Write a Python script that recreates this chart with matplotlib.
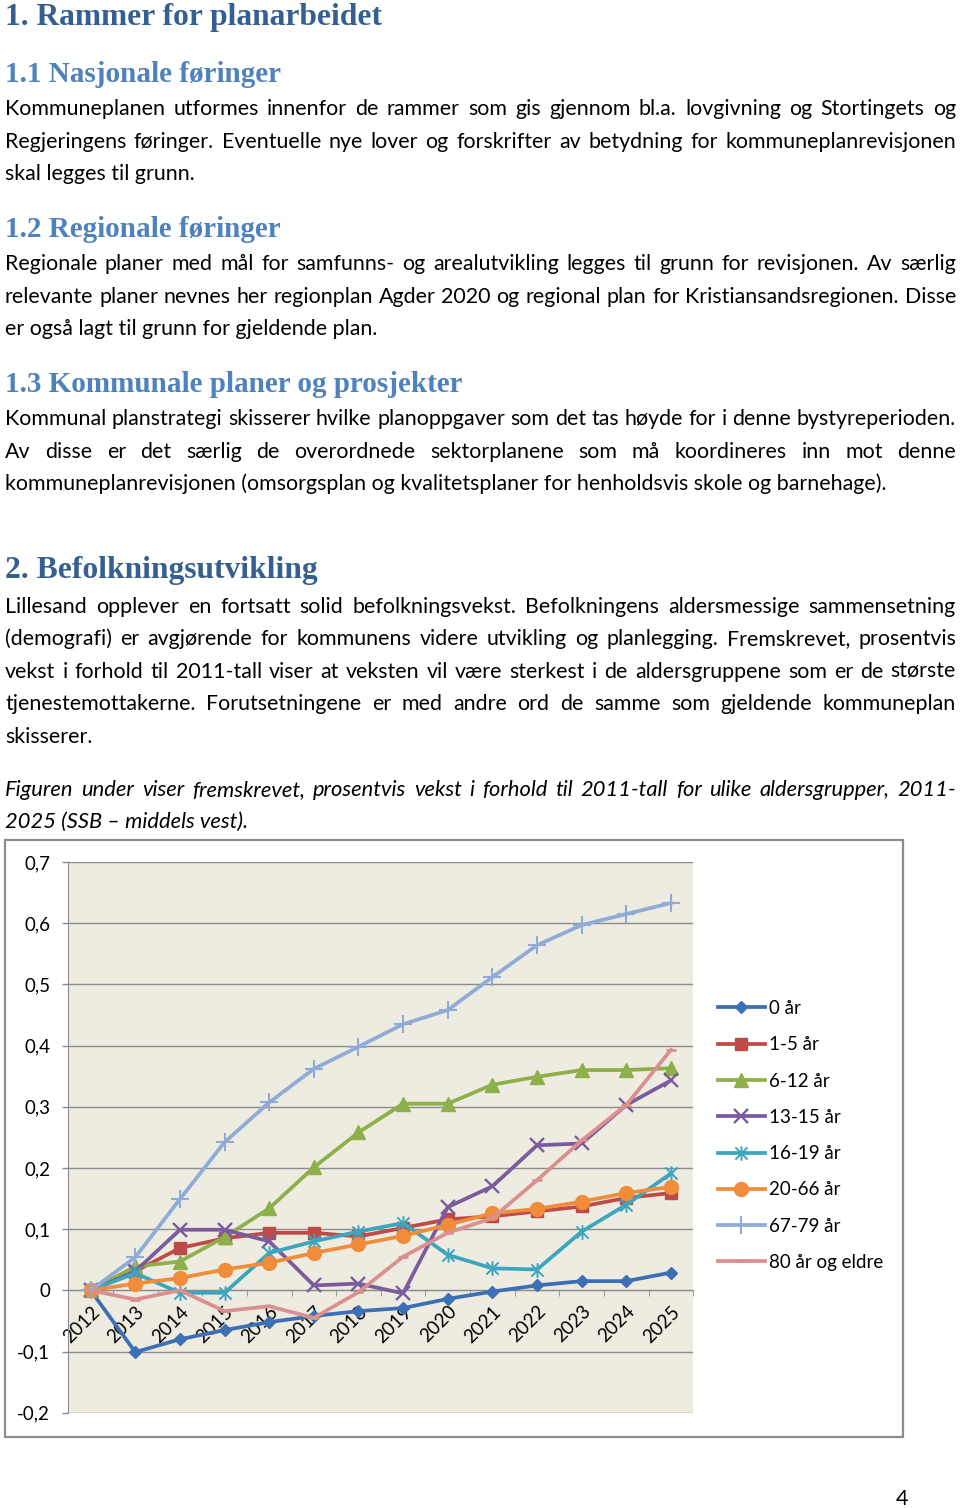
import matplotlib
matplotlib.use('Agg')
import matplotlib.pyplot as plt
from matplotlib.path import Path
from matplotlib.patches import Rectangle
import numpy as np

# ---------------- data ----------------
years = ['2012', '2013', '2014', '2015', '2016', '2017', '2018', '2019',
         '2020', '2021', '2022', '2023', '2024', '2025']
series_names = ['0 år', '1-5 år', '6-12 år', '13-15 år', '16-19 år',
                '20-66 år', '67-79 år', '80 år og eldre']
v_0 = [0, -0.101, -0.080, -0.065, -0.052, -0.042, -0.034, -0.029, -0.014, -0.002, 0.008, 0.015, 0.015, 0.029]
v_1_5 = [0, 0.031, 0.069, 0.085, 0.094, 0.094, 0.088, 0.102, 0.116, 0.121, 0.129, 0.137, 0.151, 0.159]
v_6_12 = [0, 0.039, 0.047, 0.087, 0.134, 0.201, 0.258, 0.305, 0.305, 0.336, 0.349, 0.360, 0.360, 0.363]
v_13_15 = [0, 0.031, 0.099, 0.099, 0.080, 0.008, 0.011, -0.005, 0.136, 0.170, 0.237, 0.240, 0.303, 0.343]
v_16_19 = [0, 0.028, -0.004, -0.004, 0.061, 0.080, 0.096, 0.110, 0.058, 0.036, 0.034, 0.096, 0.140, 0.191]
v_20_66 = [0, 0.011, 0.020, 0.034, 0.045, 0.061, 0.075, 0.089, 0.107, 0.126, 0.133, 0.145, 0.159, 0.169]
v_67_79 = [0, 0.054, 0.149, 0.242, 0.307, 0.362, 0.398, 0.435, 0.458, 0.512, 0.564, 0.597, 0.615, 0.633]
v_80 = [0, -0.015, 0.000, -0.034, -0.026, -0.045, -0.003, 0.055, 0.094, 0.118, 0.180, 0.245, 0.303, 0.393]
yticks = [-0.2, -0.1, 0.0, 0.1, 0.2, 0.3, 0.4, 0.5, 0.6, 0.7]
ytick_labels = ['-0,2', '-0,1', '0', '0,1', '0,2', '0,3', '0,4', '0,5', '0,6', '0,7']

# ---------------- page text ----------------
h1_a = '1. Rammer for planarbeidet'
h2_a = '1.1 Nasjonale føringer'
p1 = ['Kommuneplanen utformes innenfor de rammer som gis gjennom bl.a. lovgivning og Stortingets og',
      'Regjeringens føringer. Eventuelle nye lover og forskrifter av betydning for kommuneplanrevisjonen',
      'skal legges til grunn.']
h2_b = '1.2 Regionale føringer'
p2 = ['Regionale planer med mål for samfunns- og arealutvikling legges til grunn for revisjonen. Av særlig',
      'relevante planer nevnes her regionplan Agder 2020 og regional plan for Kristiansandsregionen. Disse',
      'er også lagt til grunn for gjeldende plan.']
h2_c = '1.3 Kommunale planer og prosjekter'
p3 = ['Kommunal planstrategi skisserer hvilke planoppgaver som det tas høyde for i denne bystyreperioden.',
      'Av disse er det særlig de overordnede sektorplanene som må koordineres inn mot denne',
      'kommuneplanrevisjonen (omsorgsplan og kvalitetsplaner for henholdsvis skole og barnehage).']
h1_b = '2. Befolkningsutvikling'
p4 = ['Lillesand opplever en fortsatt solid befolkningsvekst. Befolkningens aldersmessige sammensetning',
      '(demografi) er avgjørende for kommunens videre utvikling og planlegging. Fremskrevet, prosentvis',
      'vekst i forhold til 2011-tall viser at veksten vil være sterkest i de aldersgruppene som er de største',
      'tjenestemottakerne. Forutsetningene er med andre ord de samme som gjeldende kommuneplan',
      'skisserer.']
p5 = ['Figuren under viser fremskrevet, prosentvis vekst i forhold til 2011-tall for ulike aldersgrupper, 2011-',
      '2025 (SSB – middels vest).']
page_no = '4'

W, H = 960, 1508
fig = plt.figure(figsize=(W / 100, H / 100), dpi=100)
fig.patch.set_facecolor('white')
renderer = fig.canvas.get_renderer()

BODY = ['Lato', 'DejaVu Sans']
HEAD = ['Liberation Serif', 'DejaVu Serif']


def text_width(s, **kw):
    t = fig.text(0, 0, s, **kw)
    w = t.get_window_extent(renderer).width
    t.remove()
    return w


def fit_size(s, target, **kw):
    return 10.0 * target / text_width(s, fontsize=10, **kw)


def put(x, yb, s, **kw):
    fig.text(x / W, 1 - yb / H, s, ha='left', va='baseline', **kw)


def draw_line(s, yb, justify, x0=5, x1=956, **kw):
    if not justify:
        put(x0, yb, s, **kw)
        return
    words = s.split(' ')
    ws = [text_width(w, **kw) for w in words]
    gap = (x1 - x0 - sum(ws)) / (len(words) - 1)
    x = x0
    for w, wd in zip(words, ws):
        put(x, yb, w, **kw)
        x += wd + gap


fs_body = fit_size('skal legges til grunn.', 188, family=BODY)
fs_ital = fit_size('2025 (SSB – middels vest).', 242, family=BODY, style='italic')
fs_h1 = fit_size(h1_b, 313, family=HEAD, weight='bold')
fs_h2 = fit_size(h2_c, 460, family=HEAD, weight='bold')

C_H1 = '#365F91'
C_H2 = '#4F81BD'

put(5, 25, h1_a, fontsize=fs_h1, family=HEAD, weight='bold', color=C_H1)
put(5, 82, h2_a, fontsize=fs_h2, family=HEAD, weight='bold', color=C_H2)
put(5, 237, h2_b, fontsize=fs_h2, family=HEAD, weight='bold', color=C_H2)
put(5, 392, h2_c, fontsize=fs_h2, family=HEAD, weight='bold', color=C_H2)
put(5, 578, h1_b, fontsize=fs_h1, family=HEAD, weight='bold', color=C_H1)


def paragraph(lines, y0, step=32.6, **kw):
    for i, ln in enumerate(lines):
        draw_line(ln, y0 + i * step, i < len(lines) - 1, **kw)


bkw = dict(fontsize=fs_body, family=BODY, color='black')
paragraph(p1, 115, **bkw)
paragraph(p2, 270, **bkw)
paragraph(p3, 425, **bkw)
paragraph(p4, 612.7, **bkw)
paragraph(p5, 796, step=32, fontsize=fs_ital, family=BODY, style='italic', color='black')
put(896, 1505, page_no, **bkw)

# ---------------- chart ----------------
fig.add_artist(Rectangle((5 / W, 1 - 1437 / H), 898 / W, 597 / H, transform=fig.transFigure,
                         fill=False, ec='#8C8C8C', lw=1.6))

fs_chart = fit_size('80 år og eldre', 114, family=BODY)

ax = fig.add_axes([68.3 / W, 1 - 1412.7 / H, 625 / W, 550.7 / H])
ax.set_facecolor('#EEECE1')
ax.set_xlim(-0.5, 13.5)
ax.set_ylim(-0.2, 0.7)

ast = Path([(-1, -1), (1, 1), (-1, 1), (1, -1), (0, -1.2), (0, 1.2)],
           [Path.MOVETO, Path.LINETO, Path.MOVETO, Path.LINETO, Path.MOVETO, Path.LINETO])

x = np.arange(len(years))
styles = [
    (v_0, '#3D6FB5', dict(marker='D', ms=6.6)),
    (v_1_5, '#BE4B48', dict(marker='s', ms=8.6)),
    (v_6_12, '#8DB04A', dict(marker='^', ms=10)),
    (v_13_15, '#7A5C9E', dict(marker='x', ms=9.5, mew=1.7)),
    (v_16_19, '#3DA5BE', dict(marker=ast, ms=10.5, mew=1.4)),
    (v_20_66, '#F08C3A', dict(marker='o', ms=10)),
    (v_67_79, '#8EACD7', dict(marker='+', ms=12.5, mew=1.5)),
    (v_80, '#D9908E', dict(marker='_', ms=7, mew=2)),
]
for (vals, col, mk), name in zip(styles, series_names):
    ax.plot(x, vals, color=col, lw=2.7, mec=col, mfc=col, label=name, **mk, zorder=3)

ax.set_yticks(yticks)
ax.set_yticklabels(ytick_labels, fontsize=fs_chart, family=BODY)
ax.yaxis.grid(True, color='#8C8C8C', lw=1)
ax.set_axisbelow(True)
ax.tick_params(axis='y', length=4.5, color='#8C8C8C', pad=8.5, width=1)
for sp in ['top', 'right']:
    ax.spines[sp].set_visible(False)
ax.spines['left'].set_color('#8C8C8C')
ax.spines['bottom'].set_color('#8C8C8C')
ax.spines['bottom'].set_position(('data', 0))
ax.set_xticks(x)
ax.set_xticks(np.arange(-0.5, len(years), 1), minor=True)
ax.set_xticklabels(years, fontsize=fs_chart, family=BODY)
ax.tick_params(axis='x', which='major', length=0, pad=9)
ax.tick_params(axis='x', which='minor', length=4.5, color='#8C8C8C', direction='out')
for lab in ax.get_xticklabels():
    lab.set_rotation(45)
    lab.set_ha('right')
    lab.set_va('top')
    lab.set_rotation_mode('anchor')

ax.legend(loc='upper left', bbox_to_anchor=(718 / W, 1 - 1000 / H), bbox_transform=fig.transFigure,
          frameon=False, prop=dict(family=BODY, size=fs_chart), handlelength=2.5,
          handletextpad=0.25, labelspacing=1.03, borderpad=0, borderaxespad=0)

fig.savefig('out.png', dpi=100)
